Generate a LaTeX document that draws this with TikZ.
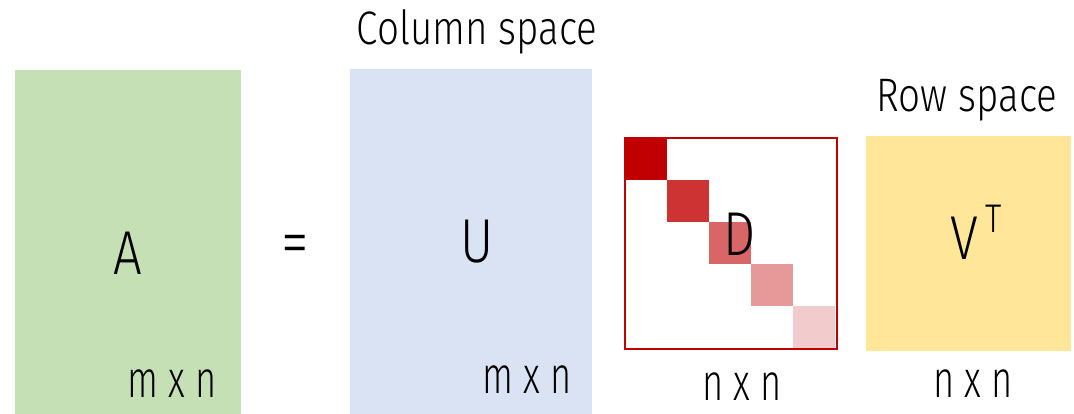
\documentclass[tikz,border=0pt]{standalone}
\usepackage{fontspec}
\setmainfont{Fira Sans Light}[FakeStretch=0.82]
\definecolor{agreen}{HTML}{C5E0B4}
\definecolor{ublue}{HTML}{DAE3F3}
\definecolor{vyellow}{HTML}{FFE699}
\definecolor{dred}{HTML}{C00000}
\tikzset{
  mat/.style={inner sep=0pt, outer sep=0pt, anchor=north west},
  big/.style={inner sep=0pt, anchor=base, font=\fontsize{62}{62}\selectfont},
  dim/.style={inner sep=0pt, anchor=base, font=\fontsize{52}{52}\selectfont},
  head/.style={inner sep=0pt, anchor=base, font=\fontsize{47}{47}\selectfont},
  diagsq/.style={inner sep=0pt, outer sep=0pt, anchor=north west, minimum width=42pt, minimum height=42pt}
}
\begin{document}
\begin{tikzpicture}[x=1pt,y=-1pt]
\useasboundingbox (0,0) rectangle (1074,414);
% matrices
\node[mat, fill=agreen, minimum width=226pt, minimum height=344pt] (Abox) at (15,70) {};
\node[mat, fill=ublue, minimum width=242pt, minimum height=345pt] (Ubox) at (350,69) {};
\node[mat, fill=vyellow, minimum width=205pt, minimum height=215pt] (Vbox) at (866,136) {};
% diagonal squares
\node[diagsq, fill=dred] (d1) at (625,138) {};
\node[diagsq, fill=dred!80!white] (d2) at (667,180) {};
\node[diagsq, fill=dred!60!white] (d3) at (709,222) {};
\node[diagsq, fill=dred!40!white] (d4) at (751,264) {};
\node[diagsq, fill=dred!20!white] (d5) at (793,306) {};
\node[mat, draw=dred, line width=2.2pt, minimum width=212pt, minimum height=211pt] (Dbox) at (625,138) {};
% headings
\node[head] (colsp) at (477,45) {Column space};
\node[head] (rowsp) at (967,112) {Row space};
% letters
\node[big] (A) at (128,275) {A};
\node[inner sep=0pt, font=\fontsize{68}{68}\selectfont] (eq) at (295,250) {=};
\node[big] (U) at (477,262) {U};
\node[big] (D) at (740,256) {D};
\node[big] (V) at (964,259) {V};
\node[inner sep=0pt, anchor=base, font=\fontsize{40}{40}\selectfont] (T) at (994,233) {T};
% dimensions
\node[dim] (dA) at (172,397) {\scalebox{0.85}[1]{m x n}};
\node[dim] (dU) at (527,393) {\scalebox{0.85}[1]{m x n}};
\node[dim] (dD) at (742,400) {\scalebox{0.85}[1]{n x n}};
\node[dim] (dV) at (973,397) {\scalebox{0.85}[1]{n x n}};
\end{tikzpicture}
\end{document}
